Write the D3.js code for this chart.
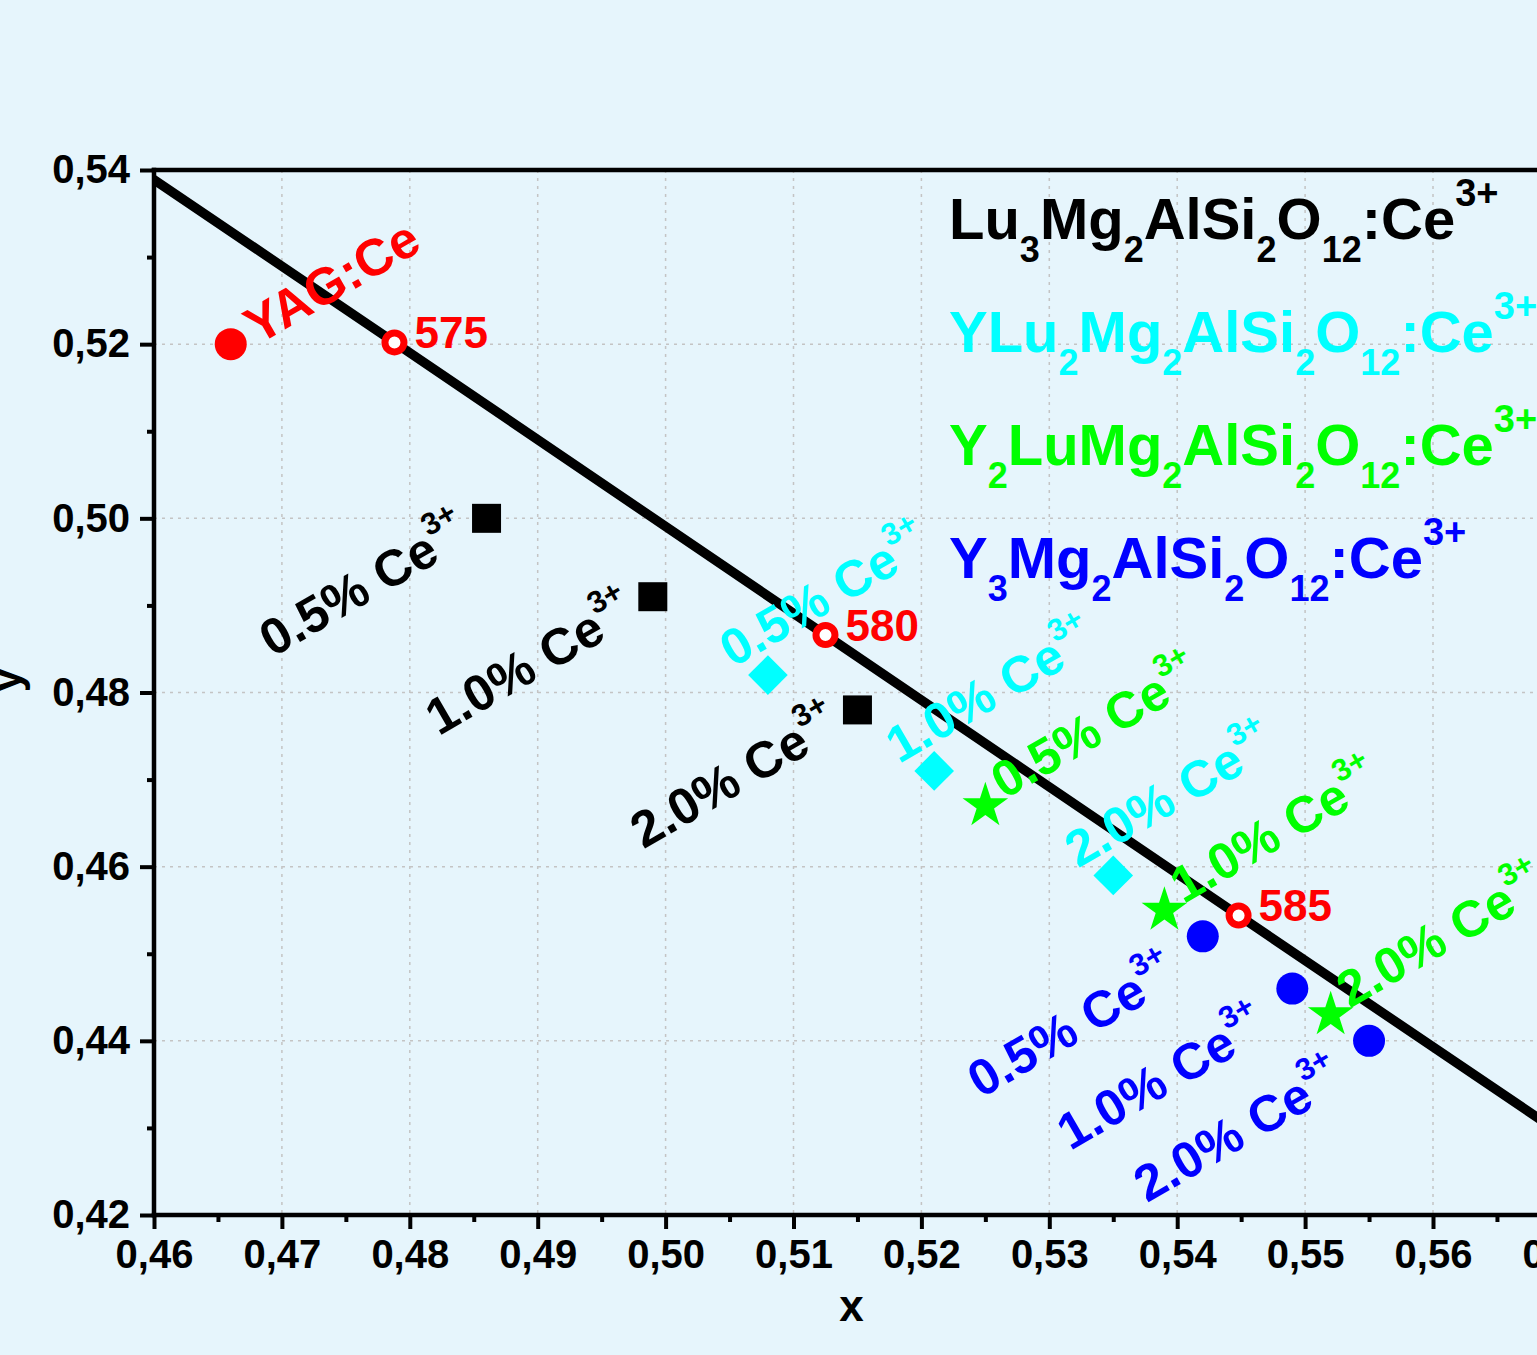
<!DOCTYPE html>
<html><head><meta charset="utf-8">
<script src="https://cdn.jsdelivr.net/npm/d3@7"></script>
<style>html,body{margin:0;padding:0;background:#e6f5fc;overflow:hidden}</style>
</head><body>
<svg id="chart" width="1537" height="1355"></svg>
<script>
// ---------- data ----------
const xTicks = [0.46,0.47,0.48,0.49,0.50,0.51,0.52,0.53,0.54,0.55,0.56,0.57];
const yTicks = [0.42,0.44,0.46,0.48,0.50,0.52,0.54];
const xMinor = [0.465,0.475,0.485,0.495,0.505,0.515,0.525,0.535,0.545,0.555,0.565];
const yMinor = [0.43,0.45,0.47,0.49,0.51,0.53];

// spectral locus segment (570-590 nm)
const locusX = [0.4441, 0.4788, 0.5125, 0.5448, 0.5752];
const locusY = [0.5547, 0.5202, 0.4866, 0.4544, 0.4242];

const wlLabels = ["575","580","585"];
const wlX = [0.4788, 0.5125, 0.5448];
const wlY = [0.5202, 0.4866, 0.4544];

const yagLabel = "YAG:Ce";
const yagX = [0.466];
const yagY = [0.520];

const concentrations = ["0.5%","1.0%","2.0%"];
const seriesNames = ["Lu3Mg2AlSi2O12:Ce3+","YLu2Mg2AlSi2O12:Ce3+","Y2LuMg2AlSi2O12:Ce3+","Y3Mg2AlSi2O12:Ce3+"];
const lu3X  = [0.486, 0.499, 0.515];
const lu3Y  = [0.500, 0.491, 0.478];
const ylu2X = [0.508, 0.521, 0.535];
const ylu2Y = [0.482, 0.471, 0.459];
const y2luX = [0.525, 0.539, 0.552];
const y2luY = [0.467, 0.455, 0.443];
const y3X   = [0.542, 0.549, 0.555];
const y3Y   = [0.452, 0.446, 0.440];

// ---------- styles ----------
const FONT = "'Liberation Sans', Arial, sans-serif";
const series = [
  {name: seriesNames[0], xs: lu3X,  ys: lu3Y,  color:"#000000", shape:"square",  anchor:"end",   dx:-14, dy:24},
  {name: seriesNames[1], xs: ylu2X, ys: ylu2Y, color:"#00ffff", shape:"diamond", anchor:"start", dx:-35, dy:-7},
  {name: seriesNames[2], xs: y2luX, ys: y2luY, color:"#00ff00", shape:"star",    anchor:"start", dx:19,  dy:-6},
  {name: seriesNames[3], xs: y3X,   ys: y3Y,   color:"#0000ff", shape:"circle",  anchor:"end",   dx:-22, dy:47}
];

const svg = d3.select("#chart");
const W = 1537, H = 1355;
const x = d3.scaleLinear().domain([0.46,0.57]).range([154, 154 + 0.11*12790]);
const y = d3.scaleLinear().domain([0.42,0.54]).range([1215,170]);
const fmt = d => d3.format(".2f")(d).replace(".", ",");

svg.append("rect").attr("width",W).attr("height",H).attr("fill","#e6f5fc");

svg.append("defs").append("clipPath").attr("id","plotclip")
  .append("rect").attr("x",x(0.46)).attr("y",y(0.54)).attr("width",x(0.57)-x(0.46)).attr("height",y(0.42)-y(0.54));

// grid
const grid = svg.append("g").attr("stroke","#c4c4c4").attr("stroke-width",1.5).attr("stroke-dasharray","3,5");
grid.selectAll(".gx").data(xTicks.filter(d=>d>0.46)).join("line")
  .attr("x1",d=>x(d)).attr("x2",d=>x(d)).attr("y1",y(0.54)).attr("y2",y(0.42));
grid.selectAll(".gy").data(yTicks.filter(d=>d>0.42 && d<0.54)).join("line")
  .attr("y1",d=>y(d)).attr("y2",d=>y(d)).attr("x1",x(0.46)).attr("x2",x(0.57));

// axes
const axStyle = g => {
  g.select(".domain").remove();
  g.selectAll(".tick line").attr("stroke","#000").attr("stroke-width",4);
  g.selectAll(".tick text").attr("fill","#000").attr("font-family",FONT).attr("font-weight","bold").attr("font-size",40);
};
svg.append("g").attr("transform",`translate(0,${y(0.42)})`)
  .call(d3.axisBottom(x).tickValues(xTicks).tickFormat(fmt).tickSize(14).tickPadding(10.5)).call(axStyle);
svg.append("g").attr("transform",`translate(0,${y(0.42)})`)
  .call(d3.axisBottom(x).tickValues(xMinor).tickFormat("").tickSize(7)).call(axStyle);
svg.append("g").attr("transform",`translate(${x(0.46)},0)`)
  .call(d3.axisLeft(y).tickValues(yTicks).tickFormat(fmt).tickSize(14).tickPadding(10)).call(axStyle);
svg.append("g").attr("transform",`translate(${x(0.46)},0)`)
  .call(d3.axisLeft(y).tickValues(yMinor).tickFormat("").tickSize(7)).call(axStyle);

// frame lines
const frame = svg.append("g").attr("stroke","#000").attr("stroke-width",4.5).attr("stroke-linecap","square");
frame.append("line").attr("x1",x(0.46)).attr("x2",x(0.57)).attr("y1",y(0.42)).attr("y2",y(0.42));
frame.append("line").attr("x1",x(0.46)).attr("x2",x(0.57)).attr("y1",y(0.54)).attr("y2",y(0.54));
frame.append("line").attr("x1",x(0.46)).attr("x2",x(0.46)).attr("y1",y(0.42)).attr("y2",y(0.54));

// axis titles
svg.append("text").attr("x",(x(0.46)+W)/2+6).attr("y",1321).attr("text-anchor","middle")
  .attr("font-family",FONT).attr("font-weight","bold").attr("font-size",44).text("x");
svg.append("text").attr("transform","translate(21,680) rotate(-90)").attr("text-anchor","middle")
  .attr("font-family",FONT).attr("font-weight","bold").attr("font-size",44).text("y");

// locus line
svg.append("path").attr("clip-path","url(#plotclip)")
  .datum(locusX.map((v,i)=>[v,locusY[i]]))
  .attr("d", d3.line().x(d=>x(d[0])).y(d=>y(d[1])))
  .attr("fill","none").attr("stroke","#000").attr("stroke-width",9.5);

// markers
const sym = {
  square: d3.symbol().type(d3.symbolSquare).size(29*29),
  diamond: d3.symbol().type(d3.symbolSquare).size(28*28),
  star: d3.symbol().type(d3.symbolStar).size(24*24/0.8908),
  circle: d3.symbol().type(d3.symbolCircle).size(Math.PI*16*16)
};
series.forEach(s => {
  const pts = s.xs.map((v,i)=>({x:v, y:s.ys[i], c:concentrations[i]}));
  svg.append("g").selectAll("path").data(pts).join("path")
    .attr("transform", d => `translate(${x(d.x)},${y(d.y)})` + (s.shape==="diamond" ? " rotate(45)" : ""))
    .attr("d", sym[s.shape]()).attr("fill", s.color);
});

// YAG point
svg.append("g").selectAll("circle").data(yagX.map((v,i)=>({x:v,y:yagY[i]}))).join("circle")
  .attr("cx",d=>x(d.x)).attr("cy",d=>y(d.y)).attr("r",16).attr("fill","#ff0000");

// wavelength points
svg.append("g").selectAll("circle").data(wlX.map((v,i)=>({x:v,y:wlY[i]}))).join("circle")
  .attr("cx",d=>x(d.x)).attr("cy",d=>y(d.y)).attr("r",9.5).attr("fill","#ffffff")
  .attr("stroke","#ff0000").attr("stroke-width",7);
svg.append("g").selectAll("text").data(wlX.map((v,i)=>({x:v,y:wlY[i],t:wlLabels[i]}))).join("text")
  .attr("x",d=>x(d.x)+20).attr("y",d=>y(d.y)+6)
  .attr("font-family",FONT).attr("font-weight","bold").attr("font-size",44).attr("fill","#ff0000").text(d=>d.t);

// annotations
const ANG = -30, AF = 51, SF = 31;
series.forEach(s => {
  const pts = s.xs.map((v,i)=>({x:v, y:s.ys[i], c:concentrations[i]}));
  const t = svg.append("g").selectAll("text").data(pts).join("text")
    .attr("transform", d => `translate(${x(d.x)+s.dx},${y(d.y)+s.dy}) rotate(${ANG})`)
    .attr("text-anchor", s.anchor)
    .attr("font-family",FONT).attr("font-weight","bold").attr("font-size",AF).attr("fill",s.color);
  t.append("tspan").text(d=>d.c + " Ce");
  t.append("tspan").attr("font-size",SF).attr("dy",-27).text("3+");
});
svg.append("g").selectAll("text").data(yagX.map((v,i)=>({x:v,y:yagY[i]}))).join("text")
  .attr("transform", d => `translate(${x(d.x)+27},${y(d.y)+1}) rotate(${ANG})`)
  .attr("font-family",FONT).attr("font-weight","bold").attr("font-size",52).attr("fill","#ff0000").text(yagLabel);

// legend with sub/superscripts
function parseFormula(f){
  const segs = [];
  let main = f, sup = null;
  const mm = f.match(/(\d\+)$/);
  if (mm){ sup = mm[1]; main = f.slice(0, f.length - sup.length); }
  main.match(/\d+|\D+/g).forEach(p => segs.push({t:p, k: /^\d+$/.test(p) ? "sub" : "main"}));
  if (sup) segs.push({t:sup, k:"sup"});
  return segs;
}
const LF = 58, LS = 36, LP = 38, SUBD = 23, SUPD = 33;
series.forEach((s, i) => {
  const txt = svg.append("text").attr("x", 949).attr("y", 239 + i*113)
    .attr("font-family",FONT).attr("font-weight","bold").attr("font-size",LF).attr("fill",s.color);
  let cur = 0;
  parseFormula(s.name).forEach(seg => {
    const target = seg.k==="sub" ? SUBD : seg.k==="sup" ? -SUPD : 0;
    txt.append("tspan").attr("dy", target - cur)
      .attr("font-size", seg.k==="main" ? LF : seg.k==="sub" ? LS : LP).text(seg.t);
    cur = target;
  });
});
</script>
</body></html>
